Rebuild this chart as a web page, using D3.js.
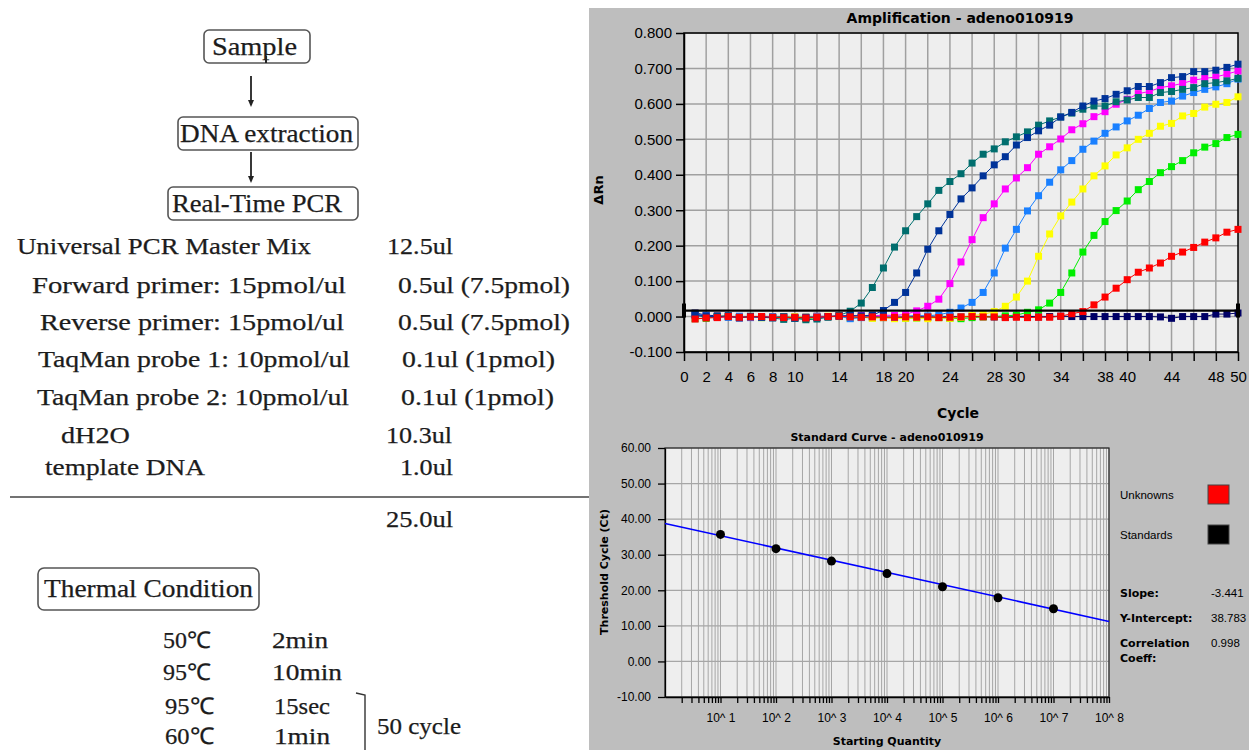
<!DOCTYPE html>
<html lang="en">
<head>
<meta charset="UTF-8">
<title>Real-Time PCR</title>
<script src="https://d3js.org/d3.v7.min.js"></script>
<style>
  body { margin: 0; background: #fff; }
  svg { display: block; }
  .serif { font-family: "Liberation Serif", "Times New Roman", serif; fill: #1c1c1c; stroke: #1c1c1c; stroke-width: 0.25; }
  .tick-txt { font-family: "Liberation Sans", Arial, sans-serif; }
  .bold { font-family: "DejaVu Sans", sans-serif; font-weight: bold; fill: #000; }
</style>
</head>
<body>
<svg></svg>
<script>
const width = 1249, height = 750;

// ---------- amplification data (delta Rn per cycle) ----------
const cycles = d3.range(1, 51);
const tealRn = [0.004, -0.002, 0.000, 0.002, -0.003, 0.001, -0.002, -0.004, -0.008, -0.005, -0.009, -0.007, -0.002, 0.003,
  0.015, 0.038, 0.082, 0.137, 0.196, 0.242, 0.282, 0.318, 0.356, 0.381,
  0.403, 0.433, 0.458, 0.473, 0.493, 0.507, 0.521, 0.540, 0.552, 0.563,
  0.574, 0.585, 0.594, 0.594, 0.606, 0.611, 0.618, 0.618, 0.632, 0.635,
  0.641, 0.646, 0.657, 0.660, 0.665, 0.672];
const darkBlueRn = [0.006, 0.001, -0.001, 0.002, -0.004, 0.000, -0.002, -0.003, -0.001, -0.004, -0.002, -0.003, 0.000, 0.001, 0.003, 0.002, 0.004,
  0.017, 0.040, 0.068, 0.123, 0.190, 0.242, 0.288,
  0.332, 0.363, 0.397, 0.428, 0.451, 0.484, 0.505, 0.524, 0.540, 0.563,
  0.576, 0.594, 0.608, 0.615, 0.627, 0.637, 0.649, 0.649, 0.660, 0.674,
  0.677, 0.691, 0.691, 0.695, 0.703, 0.712];
const magentaRn = [0.003, 0.000, -0.002, 0.001, -0.003, 0.000, -0.001, -0.003, -0.002, -0.004, -0.003, -0.002, 0.000, 0.002, 0.001, 0.003, 0.002, 0.004, 0.003, 0.006,
  0.016, 0.029, 0.049, 0.093,
  0.154, 0.217, 0.279, 0.318, 0.360, 0.391, 0.420, 0.458, 0.479, 0.501,
  0.527, 0.544, 0.564, 0.578, 0.599, 0.613, 0.629, 0.635, 0.646, 0.651,
  0.658, 0.667, 0.672, 0.676, 0.684, 0.693];
const blueRn = [0.008, 0.002, 0.000, -0.002, 0.001, -0.003, -0.001, 0.000, -0.004, -0.002, -0.003, -0.001, 0.000, 0.001, -0.006, -0.003, 0.002, 0.000, -0.002, 0.001, 0.003, 0.002, 0.005,
  0.012,
  0.024, 0.040, 0.068, 0.123, 0.193, 0.246, 0.298, 0.341, 0.379, 0.414,
  0.440, 0.472, 0.495, 0.517, 0.535, 0.552, 0.568, 0.587, 0.604, 0.608,
  0.622, 0.632, 0.641, 0.648, 0.657, 0.670];
const yellowRn = [0.002, -0.001, 0.000, 0.001, -0.002, 0.000, -0.003, -0.001, -0.002, 0.000, -0.002, -0.001, 0.001, 0.000, -0.002, 0.001, -0.005, -0.003, -0.006, -0.005, -0.004, -0.006, -0.003, -0.005, -0.002, 0.003, 0.006,
  0.014, 0.029, 0.055, 0.100, 0.170, 0.233, 0.284,
  0.323, 0.360, 0.397, 0.425, 0.456, 0.476, 0.500, 0.517, 0.537, 0.545,
  0.566, 0.573, 0.591, 0.599, 0.604, 0.620];
const greenRn = [-0.006, -0.005, 0.000, 0.001, -0.002, -0.001, -0.003, -0.002, -0.001, -0.005, -0.006, -0.003, 0.000, 0.001, -0.004, -0.002, -0.004, -0.002, -0.003, -0.005, -0.004, -0.002, -0.003, -0.005, -0.006, -0.003, -0.001, 0.000, 0.002, 0.004,
  0.012, 0.019, 0.038, 0.068,
  0.123, 0.182, 0.229, 0.268, 0.299, 0.326, 0.358, 0.381, 0.406, 0.423,
  0.440, 0.462, 0.478, 0.488, 0.505, 0.514];
const redRn = [-0.007, -0.004, -0.003, 0.000, -0.002, -0.001, 0.000, -0.002, -0.003, -0.002, -0.004, -0.002, 0.000, 0.001, -0.001, -0.002, -0.001, -0.002, -0.002, -0.001, -0.002, -0.001, -0.003, -0.002, -0.001, 0.000, -0.001, -0.001, -0.003, -0.002, -0.003, -0.002, -0.002, 0.001, 0.008,
  0.014, 0.033, 0.055, 0.080, 0.104, 0.125, 0.137, 0.151, 0.170,
  0.182, 0.195, 0.210, 0.222, 0.238, 0.246];
const navyRn = [0.010, 0.004, 0.002, -0.001, -0.003, 0.000, -0.001, -0.002, 0.000, -0.003, -0.002, 0.001, 0.000, 0.002, 0.001, -0.002, 0.000, -0.003, -0.004, -0.002, 0.000, -0.001, -0.002, 0.000, -0.001, 0.001, 0.000, -0.001, -0.002, 0.000, 0.001, -0.001, 0.000, 0.001, 0.000,
  0.000, 0.000, 0.000, 0.000, 0.000, 0.000, 0.000, -0.001, -0.005,
  0.000, 0.000, 0.000, 0.007, 0.007, 0.010];

const ampSeries = [
  { name: "NTC", color: "#000066", values: navyRn },
  { name: "10^1", color: "#00ee00", values: greenRn },
  { name: "10^2", color: "#ffff00", values: yellowRn },
  { name: "10^3", color: "#1a80ff", values: blueRn },
  { name: "10^4", color: "#ff00ff", values: magentaRn },
  { name: "10^6", color: "#006e6e", values: tealRn },
  { name: "10^5", color: "#003399", values: darkBlueRn },
  { name: "sample", color: "#ff0000", values: redRn }
];
const ampYTicks = [0.8, 0.7, 0.6, 0.5, 0.4, 0.3, 0.2, 0.1, 0.0, -0.1];
const ampXLabels = [0, 2, 4, 6, 8, 10, 14, 18, 20, 24, 28, 30, 34, 38, 40, 44, 48, 50];
const threshold = 0.017;

// ---------- standard curve data ----------
const stdQty = [1e1, 1e2, 1e3, 1e4, 1e5, 1e6, 1e7];
const stdCt = [35.7, 31.7, 28.2, 24.7, 21.0, 17.9, 14.8];
const slope = -3.441, intercept = 38.783, corrCoeff = 0.998;
const stdXTicks = [1e1, 1e2, 1e3, 1e4, 1e5, 1e6, 1e7, 1e8];
const stdXLabels = ["10^ 1", "10^ 2", "10^ 3", "10^ 4", "10^ 5", "10^ 6", "10^ 7", "10^ 8"];
const stdYTicks = [60, 50, 40, 30, 20, 10, 0, -10];

// ---------- protocol text ----------
const steps = ["Sample", "DNA extraction", "Real-Time PCR"];
const reagents = ["Universal PCR Master Mix", "Forward primer: 15pmol/ul", "Reverse primer: 15pmol/ul",
  "TaqMan probe 1: 10pmol/ul", "TaqMan probe 2: 10pmol/ul", "dH2O", "template DNA"];
const volumes = ["12.5ul", "0.5ul (7.5pmol)", "0.5ul (7.5pmol)", "0.1ul (1pmol)", "0.1ul (1pmol)", "10.3ul", "1.0ul"];
const totalVolume = "25.0ul";
const temps = ["50℃", "95℃", "95℃", "60℃"];
const times = ["2min", "10min", "15sec", "1min"];

const svg = d3.select("svg").attr("width", width).attr("height", height);

// ================= left: protocol =================
const left = svg.append("g");

function fitText(g, txt, x0, x1, y, size) {
  return g.append("text").attr("class", "serif")
    .attr("x", x0).attr("y", y)
    .attr("font-size", size)
    .attr("textLength", x1 - x0)
    .attr("lengthAdjust", "spacingAndGlyphs")
    .text(txt);
}

const stepBoxes = [
  { x: 204, y: 30, w: 106, h: 33, tx: [212, 297] },
  { x: 178, y: 117, w: 180, h: 33, tx: [180, 353] },
  { x: 168, y: 187, w: 190, h: 33, tx: [172, 342] }
];
steps.forEach((s, i) => {
  const b = stepBoxes[i];
  left.append("rect").attr("x", b.x).attr("y", b.y).attr("width", b.w).attr("height", b.h)
    .attr("rx", 5).attr("fill", "#fff").attr("stroke", "#555").attr("stroke-width", 1.6);
  fitText(left, s, b.tx[0], b.tx[1], b.y + b.h / 2 + 8, 25);
});
// small mark under "Sample"
left.append("line").attr("x1", 266).attr("x2", 266).attr("y1", 56).attr("y2", 63)
  .attr("stroke", "#222").attr("stroke-width", 2);

function arrow(x, y1, y2) {
  left.append("line").attr("x1", x).attr("x2", x).attr("y1", y1).attr("y2", y2 - 5)
    .attr("stroke", "#222").attr("stroke-width", 1.8);
  left.append("path").attr("d", `M${x - 3},${y2 - 7}L${x + 3},${y2 - 7}L${x},${y2}Z`).attr("fill", "#222");
}
arrow(251, 76, 107);
arrow(251, 152, 183);

const rowY = [246, 285, 322, 359, 397, 435, 467];
const labelSpan = [[17, 311], [32, 346], [40, 344], [38, 350], [37, 349], [61, 130], [45, 205]];
const valueSpan = [[387, 453], [398, 570], [398, 570], [402, 555], [401, 554], [386, 452], [400, 453]];
reagents.forEach((r, i) => {
  fitText(left, r, labelSpan[i][0], labelSpan[i][1], rowY[i] + 8, 24);
  fitText(left, volumes[i], valueSpan[i][0], valueSpan[i][1], rowY[i] + 8, 24);
});
left.append("line").attr("x1", 10).attr("x2", 589).attr("y1", 497).attr("y2", 497)
  .attr("stroke", "#444").attr("stroke-width", 1.6);
fitText(left, totalVolume, 386, 453, 527, 24);

left.append("rect").attr("x", 38).attr("y", 568).attr("width", 221).attr("height", 42)
  .attr("rx", 6).attr("fill", "#fff").attr("stroke", "#555").attr("stroke-width", 1.6);
fitText(left, "Thermal Condition", 44, 253, 597, 25);

const thermY = [640, 672, 706, 736];
const tempSpan = [[163, 211], [163, 211], [165, 214], [165, 214]];
const timeSpan = [[272, 328], [272, 342], [274, 330], [274, 330]];
temps.forEach((t, i) => {
  fitText(left, t, tempSpan[i][0], tempSpan[i][1], thermY[i] + 8, 23);
  fitText(left, times[i], timeSpan[i][0], timeSpan[i][1], thermY[i] + 8, 23);
});
left.append("path").attr("d", "M356,693L365,695L365,752")
  .attr("fill", "none").attr("stroke", "#333").attr("stroke-width", 1.4);
fitText(left, "50 cycle", 377, 461, 734, 24);

// ================= right: instrument panel =================
svg.append("rect").attr("x", 589).attr("y", 8).attr("width", width - 589).attr("height", height - 8)
  .attr("fill", "#bebebe");

// ---------- amplification plot ----------
const ax = d3.scaleLinear().domain([0, 50]).range([684, 1238]);
const ay = d3.scaleLinear().domain([-0.1, 0.8]).range([352, 33]);
const amp = svg.append("g");

amp.append("rect").attr("x", ax(0)).attr("y", ay(0.8))
  .attr("width", ax(50) - ax(0)).attr("height", ay(-0.1) - ay(0.8)).attr("fill", "#eeeeee");
amp.append("g").selectAll("line").data(d3.range(2, 50, 2)).join("line")
  .attr("x1", d => ax(d)).attr("x2", d => ax(d)).attr("y1", ay(0.8)).attr("y2", ay(-0.1))
  .attr("stroke", "#a0a0a0").attr("stroke-width", 1.5);
amp.append("g").selectAll("line").data(ampYTicks).join("line")
  .attr("x1", ax(0)).attr("x2", ax(50)).attr("y1", d => ay(d)).attr("y2", d => ay(d))
  .attr("stroke", "#a0a0a0").attr("stroke-width", 1.5);
amp.append("rect").attr("x", ax(0)).attr("y", ay(0.8))
  .attr("width", ax(50) - ax(0)).attr("height", ay(-0.1) - ay(0.8))
  .attr("fill", "none").attr("stroke", "#000").attr("stroke-width", 1.5);

const ampY = amp.append("g").attr("transform", `translate(${ax(0)},0)`)
  .call(d3.axisLeft(ay).tickValues(ampYTicks).tickSize(8).tickSizeOuter(0).tickPadding(4)
    .tickFormat(d => d.toFixed(3)));
const ampX = amp.append("g").attr("transform", `translate(0,${ay(-0.1)})`)
  .call(d3.axisBottom(ax).tickValues(d3.range(0, 51, 2)).tickSize(9).tickSizeOuter(0).tickPadding(10)
    .tickFormat(d => ampXLabels.includes(d) ? d : ""));
[ampY, ampX].forEach(g => {
  g.selectAll("path,line").attr("stroke", "#000").attr("stroke-width", 1.5);
  g.selectAll("text").attr("class", "tick-txt").attr("font-size", 15).attr("fill", "#000");
});

const line = d3.line().x((d, i) => ax(cycles[i])).y(d => ay(d));
ampSeries.forEach(s => {
  const g = amp.append("g");
  g.append("path").datum(s.values).attr("d", line)
    .attr("fill", "none").attr("stroke", s.color).attr("stroke-width", 1);
  g.selectAll("rect").data(s.values).join("rect")
    .attr("x", (d, i) => ax(cycles[i]) - 3.5).attr("y", d => ay(d) - 3.5)
    .attr("width", 7).attr("height", 7).attr("fill", s.color);
});

// threshold
amp.append("line").attr("x1", ax(0)).attr("x2", ax(50)).attr("y1", ay(threshold)).attr("y2", ay(threshold))
  .attr("stroke", "#000").attr("stroke-width", 2.2);
[0, 50].forEach(c => {
  amp.append("rect").attr("x", ax(c) - 2).attr("y", ay(threshold) - 7)
    .attr("width", 4).attr("height", 14).attr("fill", "#000");
});

amp.append("text").attr("class", "bold").attr("x", 960).attr("y", 23)
  .attr("text-anchor", "middle").attr("font-size", 14).text("Amplification - adeno010919");
amp.append("text").attr("class", "bold").attr("font-size", 13)
  .attr("transform", "translate(603,190) rotate(-90)").attr("text-anchor", "middle").text("ΔRn");
amp.append("text").attr("class", "bold").attr("x", 958).attr("y", 418)
  .attr("text-anchor", "middle").attr("font-size", 14).text("Cycle");

// ---------- standard curve ----------
const sx = d3.scaleLog().domain([1, 1e8]).range([665, 1109]);
const sy = d3.scaleLinear().domain([-10, 60]).range([697, 448]);
const std = svg.append("g");

const logGrid = [];
d3.range(0, 8).forEach(p => d3.range(1, 10).forEach(k => logGrid.push(k * Math.pow(10, p))));
logGrid.push(1e8);

std.append("rect").attr("x", sx(1)).attr("y", sy(60))
  .attr("width", sx(1e8) - sx(1)).attr("height", sy(-10) - sy(60)).attr("fill", "#eeeeee");
std.append("g").selectAll("line").data(logGrid.slice(1)).join("line")
  .attr("x1", d => sx(d)).attr("x2", d => sx(d)).attr("y1", sy(60)).attr("y2", sy(-10))
  .attr("stroke", "#a6a6a6").attr("stroke-width", 1);
std.append("g").selectAll("line").data(stdYTicks).join("line")
  .attr("x1", sx(1)).attr("x2", sx(1e8)).attr("y1", d => sy(d)).attr("y2", d => sy(d))
  .attr("stroke", "#a6a6a6").attr("stroke-width", 1.2);
std.append("rect").attr("x", sx(1)).attr("y", sy(60))
  .attr("width", sx(1e8) - sx(1)).attr("height", sy(-10) - sy(60))
  .attr("fill", "none").attr("stroke", "#222").attr("stroke-width", 1.2);

const stdY = std.append("g").attr("transform", `translate(${sx(1)},0)`)
  .call(d3.axisLeft(sy).tickValues(stdYTicks).tickSize(7).tickSizeOuter(0).tickPadding(7)
    .tickFormat(d => d.toFixed(2)));
const stdX = std.append("g").attr("transform", `translate(0,${sy(-10)})`)
  .call(d3.axisBottom(sx).tickValues(logGrid.slice(1)).tickSize(6).tickSizeOuter(0).tickPadding(10)
    .tickFormat(d => { const i = stdXTicks.indexOf(d); return i >= 0 ? stdXLabels[i] : ""; }));
[stdY, stdX].forEach(g => {
  g.selectAll("path,line").attr("stroke", "#000").attr("stroke-width", 1.3);
  g.selectAll("text").attr("class", "tick-txt").attr("font-size", 12).attr("fill", "#000");
});

std.append("line")
  .attr("x1", sx(1)).attr("y1", sy(intercept))
  .attr("x2", sx(1e8)).attr("y2", sy(intercept + slope * 8))
  .attr("stroke", "#0000ff").attr("stroke-width", 1.5);
std.append("g").selectAll("circle").data(stdQty).join("circle")
  .attr("cx", d => sx(d)).attr("cy", (d, i) => sy(stdCt[i])).attr("r", 4.5).attr("fill", "#000");

std.append("text").attr("class", "bold").attr("x", 887).attr("y", 441)
  .attr("text-anchor", "middle").attr("font-size", 11).text("Standard Curve - adeno010919");
std.append("text").attr("class", "bold").attr("font-size", 11)
  .attr("transform", "translate(608,572) rotate(-90)").attr("text-anchor", "middle").text("Threshold Cycle (Ct)");
std.append("text").attr("class", "bold").attr("x", 887).attr("y", 745)
  .attr("text-anchor", "middle").attr("font-size", 11).text("Starting Quantity");

// legend
const legend = [{ label: "Unknowns", color: "#ff0000", y: 495 }, { label: "Standards", color: "#000000", y: 535 }];
legend.forEach(l => {
  std.append("text").attr("class", "tick-txt").attr("x", 1120).attr("y", l.y + 4)
    .attr("font-size", 11.5).text(l.label);
  std.append("rect").attr("x", 1208).attr("y", l.y - 10).attr("width", 21).attr("height", 19)
    .attr("fill", l.color).attr("stroke", "#444").attr("stroke-width", 1);
});

// regression stats
const stats = [
  { label: "Slope:", value: slope.toFixed(3), y: 593 },
  { label: "Y-Intercept:", value: intercept.toFixed(3), y: 618 },
  { label: "Correlation", value: corrCoeff.toFixed(3), y: 643 }
];
stats.forEach(s => {
  std.append("text").attr("class", "bold").attr("x", 1120).attr("y", s.y + 4)
    .attr("font-size", 11).text(s.label);
  std.append("text").attr("class", "tick-txt").attr("x", 1211).attr("y", s.y + 4)
    .attr("font-size", 11.5).text(s.value);
});
std.append("text").attr("class", "bold").attr("x", 1120).attr("y", 662)
  .attr("font-size", 11).text("Coeff:");
</script>
</body>
</html>
